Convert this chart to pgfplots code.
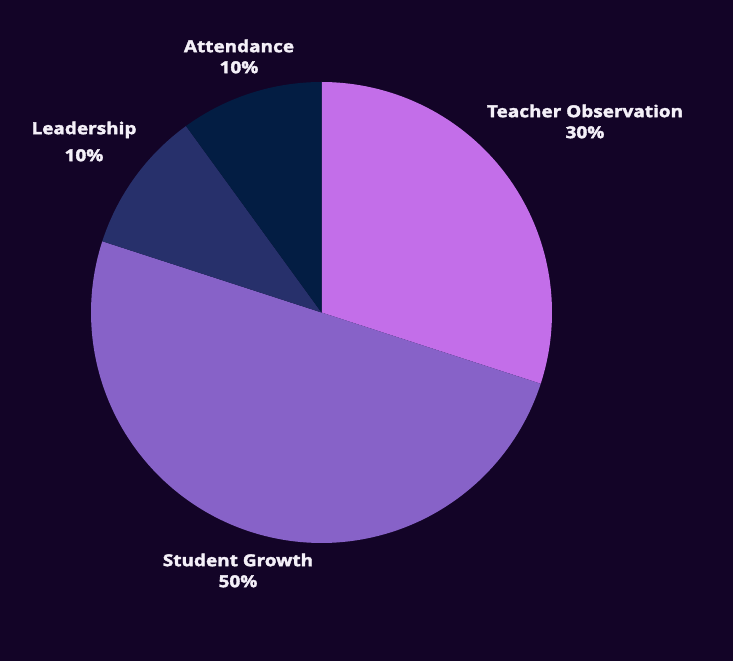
\documentclass[border=0pt]{standalone}
\usepackage{pgfplots}
\pgfplotsset{compat=1.18}
\usepackage{fontspec}
\setmainfont{Open Sans}
\newfontfamily\lblfont[FakeBold=2.2,FakeStretch=1.15]{Open Sans Bold}
\definecolor{bg}{HTML}{130427}
\definecolor{cTeach}{HTML}{C36EE9}
\definecolor{cStud}{HTML}{8762C8}
\definecolor{cLead}{HTML}{27306B}
\definecolor{cAtt}{HTML}{031D43}
\definecolor{lbl}{HTML}{F4F0F8}
% values (percent), clockwise from 12 o'clock
\def\vA{30}\def\vB{50}\def\vC{10}\def\vD{10}
\begin{document}
\begin{tikzpicture}[x=1pt,y=1pt]
\fill[bg] (0,0) rectangle (733,661);
\pgfmathsetmacro{\aA}{90}
\pgfmathsetmacro{\aB}{90-3.6*\vA}
\pgfmathsetmacro{\aC}{\aB-3.6*\vB}
\pgfmathsetmacro{\aD}{\aC-3.6*\vC}
\pgfmathsetmacro{\aE}{\aD-3.6*\vD}
\begin{axis}[
  at={(91pt,118pt)}, anchor=south west,
  scale only axis, width=461pt, height=461pt,
  xmin=-1, xmax=1, ymin=-1, ymax=1,
  hide axis, clip=false]
\addplot[fill=cTeach, draw=none, domain=\aB:\aA, samples=80] ({cos(x)},{sin(x)}) -- (0,0) -- cycle;
\addplot[fill=cStud, draw=none, domain=\aC:\aB, samples=120] ({cos(x)},{sin(x)}) -- (0,0) -- cycle;
\addplot[fill=cLead, draw=none, domain=\aD:\aC, samples=40] ({cos(x)},{sin(x)}) -- (0,0) -- cycle;
\addplot[fill=cAtt, draw=none, domain=\aE:\aD, samples=40] ({cos(x)},{sin(x)}) -- (0,0) -- cycle;
\end{axis}
\begin{scope}[every node/.style={text=lbl, font=\lblfont\fontsize{16.5}{21}\selectfont, align=center, inner sep=0pt}]
\node at (585,{661-121.5}) {Teacher Observation\\\vA\%};
\node at (238,{661-570.5}) {Student Growth\\\vB\%};
\node[font=\lblfont\fontsize{16.5}{27}\selectfont] at (84,{661-141.5}) {Leadership\\\vC\%};
\node at (239,{661-56.5}) {Attendance\\\vD\%};
\end{scope}
\end{tikzpicture}
\end{document}
